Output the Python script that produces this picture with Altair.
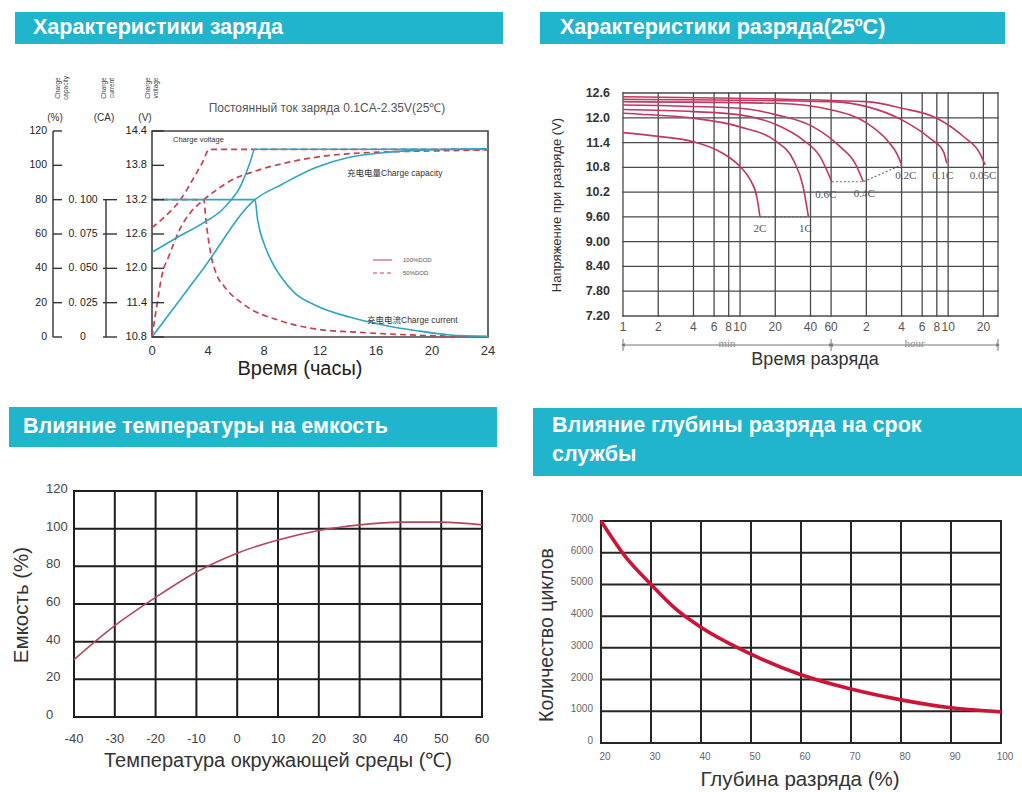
import altair as alt
import pandas as pd

FONT = "Liberation Sans, Arial, Helvetica, sans-serif"
SERIF = "Liberation Serif, Times New Roman, serif"
CJK = "Liberation Sans, Noto Sans CJK SC, sans-serif"
TEAL = "#21b5cd"
INK = "#2b2b2b"

# ============================ DATA ============================
header_texts = ["Характеристики заряда", "Характеристики разряда(25ºC)",
                "Влияние температуры на емкость",
                "Влияние глубины разряда на срок\nслужбы"]

# ---- Panel 1: charge characteristics (hours) ----
charge_hour_ticks = [0, 4, 8, 12, 16, 20, 24]
charge_pct_ticks = [0, 20, 40, 60, 80, 100, 120]
charge_ca_ticks = [0, 0.025, 0.05, 0.075, 0.1]
charge_ca_labels = ["0", "0. 025", "0. 050", "0. 075", "0. 100"]
charge_v_ticks = [10.8, 11.4, 12.0, 12.6, 13.2, 13.8, 14.4]
charge_v_labels = ["10.8", "11.4", "12.0", "12.6", "13.2", "13.8", "14.4"]

volt100_h = [0, 1.8, 3.7, 5.0, 5.6, 6.2, 6.6, 7.0, 7.35, 24]
volt100_v = [12.28, 12.54, 12.8, 13.02, 13.18, 13.38, 13.59, 13.85, 14.08, 14.08]
cur100_h = [0, 7.35, 7.55, 8.0, 8.5, 9.2, 10.2, 11.7, 14.1, 16.5, 18.9, 21.3, 24]
cur100_ca = [0.1, 0.1, 0.085, 0.068, 0.056, 0.044, 0.032, 0.023, 0.0145, 0.0088, 0.0046, 0.0015, 0.0005]
cap100_h = [0, 3.66, 7.35, 9.3, 11.7, 14.1, 16.5, 18.9, 21.3, 24]
cap100_pct = [0, 39.8, 80, 89, 98.7, 104.7, 107.3, 108.7, 109.3, 109.6]

volt50_h = [0, 0.86, 2.06, 3.0, 3.6, 4.1, 24]
volt50_v = [12.71, 12.89, 13.21, 13.59, 13.85, 14.08, 14.08]
cur50_h = [0, 3.7, 3.85, 4.2, 4.6, 5.2, 6.6, 9.2, 12.3, 14.1, 18, 22.5]
cur50_ca = [0.1, 0.1, 0.0854, 0.0604, 0.0458, 0.0363, 0.0233, 0.0117, 0.005, 0.0038, 0.0017, 0.0003]
cap50_h = [0, 0.3, 0.74, 1.2, 1.58, 1.94, 2.7, 3.6, 4.5, 5.6, 7.4, 10.3, 15.1, 22.2, 24]
cap50_pct = [0, 16, 37, 47, 55, 62, 72, 79.3, 85, 91, 96.7, 102.7, 107.3, 108.7, 109]

p1_title = "Постоянный ток заряда 0.1CA-2.35V(25℃)"
p1_notes = ["Charge voltage", "充电电量Charge capacity", "充电电流Charge current"]
p1_legend = ["100%DOD", "50%DOD"]
p1_axis_heads = ["Charge\ncapacity", "Charge\ncurrent", "Charge\nvoltage"]
p1_axis_units = ["(%)", "(CA)", "(V)"]
p1_xtitle = "Время (часы)"

# ---- Panel 2: discharge characteristics (minutes, log) ----
disch_x_ticks = [1, 2, 4, 6, 8, 10, 20, 40, 60, 120, 240, 360, 480, 600, 1200]
disch_x_labels = ["1", "2", "4", "6", "8", "10", "20", "40", "60", "2", "4", "6", "8", "10", "20"]
disch_y_ticks = [7.2, 7.8, 8.4, 9.0, 9.6, 10.2, 10.8, 11.4, 12.0, 12.6]
disch_y_labels = ["7.20", "7.80", "8.40", "9.00", "9.60", "10.2", "10.8", "11.4", "12.0", "12.6"]
disch_rates = ["2C", "1C", "0.6C", "0.4C", "0.2C", "0.1C", "0.05C"]
disch_t = {
    "2C":    [1, 2, 4, 6.3, 8, 10, 12.2, 13.9, 14.8],
    "1C":    [1, 2, 4, 10, 20.5, 28.5, 34.6, 38.4],
    "0.6C":  [1, 4, 10, 20.5, 34.6, 48.3, 60.8],
    "0.4C":  [1, 10, 20.5, 42.2, 71.5, 96, 113],
    "0.2C":  [1, 20.5, 60.8, 121, 180, 218, 241],
    "0.1C":  [1, 60.8, 121, 241, 420, 547, 584],
    "0.05C": [1, 121, 241, 480, 815, 1120, 1242],
}
disch_v = {
    "2C":    [11.64, 11.55, 11.42, 11.22, 11.05, 10.82, 10.5, 10.09, 9.6],
    "1C":    [12.11, 12.06, 11.99, 11.78, 11.42, 10.98, 10.33, 9.6],
    "0.6C":  [12.2, 12.15, 12.07, 11.83, 11.46, 11.06, 10.45],
    "0.4C":  [12.31, 12.23, 12.07, 11.78, 11.3, 10.9, 10.45],
    "0.2C":  [12.39, 12.35, 12.19, 11.87, 11.46, 11.14, 10.86],
    "0.1C":  [12.45, 12.39, 12.27, 11.95, 11.5, 11.18, 10.9],
    "0.05C": [12.51, 12.39, 12.23, 11.99, 11.54, 11.14, 10.86],
}
disch_segments = ["min", "hour"]
disch_segment_bounds = [1, 60, 1600]
p2_ytitle = "Напряжение при разряде (V)"
p2_xtitle = "Время разряда"

# ---- Panel 3: temperature vs capacity ----
temp_c = [-40, -30, -20, -10, 0, 10, 20, 30, 40, 50, 60]
temp_cap = [30.5, 48.5, 63.5, 77, 87, 94, 99, 102, 103.5, 103.5, 102]
temp_x_ticks = [-40, -30, -20, -10, 0, 10, 20, 30, 40, 50, 60]
temp_y_ticks = [0, 20, 40, 60, 80, 100, 120]
p3_ytitle = "Емкость (%)"
p3_xtitle = "Температура окружающей среды (℃)"

# ---- Panel 4: depth of discharge vs cycles ----
dod_pct = [20, 25, 30, 35, 40, 50, 60, 70, 80, 90, 100]
dod_cycles = [7000, 5850, 5000, 4220, 3650, 2800, 2150, 1700, 1360, 1110, 980]
dod_x_ticks = [20, 30, 40, 50, 60, 70, 80, 90, 100]
dod_y_ticks = [0, 1000, 2000, 3000, 4000, 5000, 6000, 7000]
p4_ytitle = "Количество циклов"
p4_xtitle = "Глубина разряда (%)"

# ============================ LAYOUT (pixels) ============================
P1X = dict(domain=[0, 24], range=[152, 488], nice=False, zero=False)
P1Y = dict(domain=[10.8, 14.4], range=[337, 131], nice=False, zero=False)
P2X = dict(type="log", domain=[1, 1600], range=[623, 998], nice=False)
P2Y = dict(domain=[7.2, 12.6], range=[316, 93], nice=False, zero=False)
P3X = dict(domain=[-40, 60], range=[74, 482], nice=False, zero=False)
P3Y = dict(domain=[0, 120], range=[717, 491], nice=False, zero=False)
P4X = dict(domain=[20, 100], range=[601, 1001], nice=False, zero=False)
P4Y = dict(domain=[0, 7000], range=[743, 521], nice=False, zero=False)


def X(f, S):
    return alt.X(f, type="quantitative", scale=alt.Scale(**S), axis=None)


def Y(f, S):
    return alt.Y(f, type="quantitative", scale=alt.Scale(**S), axis=None)


def vgrid(ticks, SX, SY, color, width):
    df = pd.DataFrame({"v": ticks, "a": SY["domain"][0], "b": SY["domain"][1]})
    return alt.Chart(df).mark_rule(color=color, strokeWidth=width, strokeCap="square").encode(
        x=X("v", SX), y=Y("a", SY), y2="b")


def hgrid(ticks, SX, SY, color, width):
    df = pd.DataFrame({"v": ticks, "a": SX["domain"][0], "b": SX["domain"][1]})
    return alt.Chart(df).mark_rule(color=color, strokeWidth=width, strokeCap="square").encode(
        y=Y("v", SY), x=X("a", SX), x2="b")


def xlabels(ticks, labels, SX, SY, dy, dx=0, **style):
    df = pd.DataFrame({"v": ticks, "lab": labels, "base": SY["domain"][0]})
    return alt.Chart(df).mark_text(dy=dy, dx=dx, baseline="middle", align="center", **style).encode(
        x=X("v", SX), y=Y("base", SY), text="lab:N")


def ylabels(ticks, labels, SX, SY, dx, align, dy=0, **style):
    df = pd.DataFrame({"v": ticks, "lab": labels, "base": SX["domain"][0]})
    return alt.Chart(df).mark_text(dx=dx, dy=dy, baseline="middle", align=align, **style).encode(
        y=Y("v", SY), x=X("base", SX), text="lab:N")


def text_at(txt, x, y, size, color=INK, font=FONT, align="left", angle=0, weight="normal",
            baseline="middle", lineHeight=None):
    kw = dict(text=txt, font=font, fontSize=size, color=color, align=align, baseline=baseline,
              fontWeight=weight)
    if angle:
        kw["angle"] = angle
    if lineHeight:
        kw["lineBreak"] = "\n"
        kw["lineHeight"] = lineHeight
    return alt.Chart().mark_text(**kw).encode(x=alt.value(x), y=alt.value(y))


layers = []

# ---------------- headers ----------------
header_boxes = [(15, 503, 12, 44, 33, 28), (540, 1005, 12, 44, 560, 28),
                (9, 497, 407, 447, 23, 427), (533, 1022, 408, 476, 552, 426)]
for txt, (x0, x1, y0, y1, tx, ty) in zip(header_texts, header_boxes):
    layers.append(alt.Chart().mark_rect(color=TEAL).encode(
        x=alt.value(x0), x2=alt.value(x1), y=alt.value(y0), y2=alt.value(y1)))
    layers.append(text_at(txt, tx, ty, 21.5, color="white", weight="bold", lineHeight=29,
                          baseline="middle"))

# ---------------- Panel 1 ----------------
def pct2v(p):
    return 10.8 + p * 0.03


def ca2v(c):
    return 10.8 + c * 24


series = [
    ("volt100", volt100_h, volt100_v, "solid"),
    ("cur100", cur100_h, [ca2v(c) for c in cur100_ca], "solid"),
    ("cap100", cap100_h, [pct2v(p) for p in cap100_pct], "solid"),
    ("volt50", volt50_h, volt50_v, "dashed"),
    ("cur50", cur50_h, [ca2v(c) for c in cur50_ca], "dashed"),
    ("cap50", cap50_h, [pct2v(p) for p in cap50_pct], "dashed"),
]
rows = []
for name, hs, vs, sty in series:
    for i, (h, v) in enumerate(zip(hs, vs)):
        rows.append({"s": name, "h": h, "v": v, "sty": sty, "i": i})
charge_df = pd.DataFrame(rows)

vmin, vmax = min(charge_v_ticks), max(charge_v_ticks)
# frame
layers.append(alt.Chart(pd.DataFrame({"h0": [charge_hour_ticks[0]], "h1": [charge_hour_ticks[-1]],
                                      "v0": [vmin], "v1": [vmax]}))
              .mark_rect(fillOpacity=0, stroke="#444", strokeWidth=1.6)
              .encode(x=X("h0", P1X), x2="h1", y=Y("v0", P1Y), y2="v1"))
layers.append(alt.Chart(charge_df[charge_df.sty == "dashed"]).mark_line(
    color="#c4424f", strokeWidth=1.7, strokeDash=[6, 4], interpolate="monotone").encode(
    x=X("h", P1X), y=Y("v", P1Y), detail="s:N", order="i:Q"))
layers.append(alt.Chart(charge_df[charge_df.sty == "solid"]).mark_line(
    color="#2ea5c3", strokeWidth=1.6, interpolate="monotone").encode(
    x=X("h", P1X), y=Y("v", P1Y), detail="s:N", order="i:Q"))

# x labels + title
layers.append(xlabels(charge_hour_ticks, [str(t) for t in charge_hour_ticks], P1X, P1Y, dy=14,
                      font=FONT, fontSize=13, color="#333"))
layers.append(text_at(p1_xtitle, 300, 369, 20, color="#222", align="center"))
layers.append(text_at(p1_title, 327, 108, 12, color="#555", align="center"))

# V axis labels / inner ticks
vdf = pd.DataFrame({"v": charge_v_ticks, "lab": charge_v_labels})
layers.append(alt.Chart(vdf).mark_text(align="right", baseline="middle", font=FONT, fontSize=11,
                                       color="#222").encode(x=alt.value(147), y=Y("v", P1Y), text="lab:N"))
layers.append(alt.Chart(vdf).mark_rule(color="#333", strokeWidth=1.4).encode(
    x=alt.value(152), x2=alt.value(164), y=Y("v", P1Y)))

# % axis
pdf = pd.DataFrame({"v": [pct2v(p) for p in charge_pct_ticks], "lab": [str(p) for p in charge_pct_ticks]})
layers.append(alt.Chart(pdf).mark_text(align="right", baseline="middle", font=FONT, fontSize=10.5,
                                       color="#222").encode(x=alt.value(47), y=Y("v", P1Y), text="lab:N"))
layers.append(alt.Chart(pdf).mark_rule(color="#333", strokeWidth=1.4).encode(
    x=alt.value(53), x2=alt.value(62), y=Y("v", P1Y)))
layers.append(alt.Chart(pd.DataFrame({"a": [pct2v(min(charge_pct_ticks))], "b": [pct2v(max(charge_pct_ticks))]}))
              .mark_rule(color="#333", strokeWidth=1.4).encode(x=alt.value(53), y=Y("a", P1Y), y2="b"))

# CA axis
cdf = pd.DataFrame({"v": [ca2v(c) for c in charge_ca_ticks], "lab": charge_ca_labels})
layers.append(alt.Chart(cdf).mark_text(align="center", baseline="middle", font=FONT, fontSize=10.5,
                                       color="#222").encode(x=alt.value(83), y=Y("v", P1Y), text="lab:N"))
layers.append(alt.Chart(cdf).mark_rule(color="#333", strokeWidth=1.4).encode(
    x=alt.value(103), x2=alt.value(117), y=Y("v", P1Y)))
layers.append(alt.Chart(pd.DataFrame({"a": [ca2v(min(charge_ca_ticks))], "b": [ca2v(max(charge_ca_ticks))]}))
              .mark_rule(color="#333", strokeWidth=1.4).encode(x=alt.value(106), y=Y("a", P1Y), y2="b"))

# axis heads
for txt, xh in zip(p1_axis_heads, [58, 104, 148]):
    layers.append(text_at(txt, xh, 88, 6.5, color="#444", align="center", angle=270, lineHeight=8))
for txt, xu in zip(p1_axis_units, [55, 104, 145]):
    layers.append(text_at(txt, xu, 118, 10, color="#333", align="center"))

# notes
layers.append(text_at(p1_notes[0], 173, 140, 7.5, color="#333"))
layers.append(text_at(p1_notes[1], 347, 173, 8.5, color="#333", font=CJK))
layers.append(text_at(p1_notes[2], 367, 320, 8.5, color="#333", font=CJK))
# legend
layers.append(alt.Chart().mark_rule(color="#d45a6a", strokeWidth=1.2).encode(
    x=alt.value(373), x2=alt.value(392), y=alt.value(260)))
layers.append(alt.Chart().mark_rule(color="#c4424f", strokeWidth=1.2, strokeDash=[4, 3]).encode(
    x=alt.value(373), x2=alt.value(392), y=alt.value(273)))
layers.append(text_at(p1_legend[0], 403, 260, 6, color="#555"))
layers.append(text_at(p1_legend[1], 403, 273, 6, color="#555"))

# ---------------- Panel 2 ----------------
GRID2 = "#4a4a4a"
layers.append(vgrid(disch_x_ticks + [P2X["domain"][1]], P2X, P2Y, GRID2, 1.3))
layers.append(hgrid(disch_y_ticks, P2X, P2Y, GRID2, 1.3))
drows = []
for r in disch_rates:
    for i, (t, v) in enumerate(zip(disch_t[r], disch_v[r])):
        drows.append({"rate": r, "t": t, "v": v, "i": i})
ddf = pd.DataFrame(drows)
layers.append(alt.Chart(ddf).mark_line(color="#c2375f", strokeWidth=1.6, interpolate="monotone").encode(
    x=X("t", P2X), y=Y("v", P2Y), detail="rate:N", order="i:Q"))

ends = {r: (disch_t[r][-1], disch_v[r][-1]) for r in disch_rates}
chains = [["2C", "1C"], ["0.6C", "0.4C", "0.2C"]]
crow = []
for k, ch in enumerate(chains):
    for r in ch:
        crow.append({"c": k, "t": ends[r][0], "v": ends[r][1]})
layers.append(alt.Chart(pd.DataFrame(crow)).mark_line(color="#666", strokeWidth=1.1, strokeDash=[2, 2]).encode(
    x=X("t", P2X), y=Y("v", P2Y), detail="c:N"))

lab_off = {"2C": (0, 12), "1C": (-3, 12), "0.6C": (-6, 13), "0.4C": (1, 12),
           "0.2C": (4, 11), "0.1C": (-4, 13), "0.05C": (-2, 11)}
for r in disch_rates:
    dx, dy = lab_off[r]
    layers.append(alt.Chart(pd.DataFrame({"t": [ends[r][0]], "v": [ends[r][1]], "lab": [r]}))
                  .mark_text(dx=dx, dy=dy, font=SERIF, fontSize=11, color="#555", baseline="middle")
                  .encode(x=X("t", P2X), y=Y("v", P2Y), text="lab:N"))

layers.append(xlabels(disch_x_ticks, disch_x_labels, P2X, P2Y, dy=11, font=FONT, fontSize=12, color="#555"))
layers.append(ylabels(disch_y_ticks, disch_y_labels, P2X, P2Y, dx=-13, align="right", font=FONT,
                      fontSize=12.5, fontWeight="bold", color="#333"))

# min / hour arrow row
seg = pd.DataFrame({"a": disch_segment_bounds[:-1], "b": disch_segment_bounds[1:], "lab": disch_segments})
seg["mid"] = (seg["a"] * seg["b"]) ** 0.5
layers.append(alt.Chart(seg).mark_rule(color="#777", strokeWidth=1).encode(
    x=X("a", P2X), x2="b", y=alt.value(345)))
bnd = pd.DataFrame({"v": disch_segment_bounds})
layers.append(alt.Chart(bnd).mark_rule(color="#777", strokeWidth=1).encode(
    x=X("v", P2X), y=alt.value(339), y2=alt.value(351)))
layers.append(alt.Chart(pd.DataFrame({"v": disch_segment_bounds[:-1]})).mark_point(
    shape="triangle-left", filled=True, size=18, color="#777", opacity=1).encode(
    x=X("v", P2X), y=alt.value(345)))
layers.append(alt.Chart(pd.DataFrame({"v": disch_segment_bounds[1:]})).mark_point(
    shape="triangle-right", filled=True, size=18, color="#777", opacity=1).encode(
    x=X("v", P2X), y=alt.value(345)))
layers.append(alt.Chart(seg).mark_text(font=SERIF, fontSize=11, color="#888", baseline="middle").encode(
    x=X("mid", P2X), y=alt.value(344), text="lab:N"))
layers.append(text_at(p2_xtitle, 815, 360, 18, color="#333", align="center"))
layers.append(text_at(p2_ytitle, 557, 205, 13, color="#333", align="center", angle=270))

# ---------------- Panel 3 ----------------
GRID3 = "#1e1e1e"
layers.append(vgrid(temp_x_ticks, P3X, P3Y, GRID3, 2))
layers.append(hgrid(temp_y_ticks, P3X, P3Y, GRID3, 2))
layers.append(alt.Chart(pd.DataFrame({"t": temp_c, "c": temp_cap})).mark_line(
    color="#b4475a", strokeWidth=1.6, interpolate="monotone").encode(x=X("t", P3X), y=Y("c", P3Y)))
layers.append(xlabels(temp_x_ticks, [str(t) for t in temp_x_ticks], P3X, P3Y, dy=22,
                      font=FONT, fontSize=13, color="#444"))
layers.append(ylabels(temp_y_ticks, [str(t) for t in temp_y_ticks], P3X, P3Y, dx=-28, dy=-2,
                      align="left", font=FONT, fontSize=13, color="#444"))
layers.append(text_at(p3_xtitle, 278, 761, 20, color="#333", align="center"))
layers.append(text_at(p3_ytitle, 22, 605, 20.5, color="#333", align="center", angle=270))

# ---------------- Panel 4 ----------------
GRID4 = "#262626"
layers.append(vgrid(dod_x_ticks, P4X, P4Y, GRID4, 2))
layers.append(hgrid(dod_y_ticks, P4X, P4Y, GRID4, 2))
layers.append(alt.Chart(pd.DataFrame({"d": dod_pct, "n": dod_cycles})).mark_line(
    color="#cc1436", strokeWidth=3.6, interpolate="monotone").encode(x=X("d", P4X), y=Y("n", P4Y)))
layers.append(xlabels(dod_x_ticks, [str(t) for t in dod_x_ticks], P4X, P4Y, dy=14, dx=4,
                      font=FONT, fontSize=10, color="#666"))
layers.append(ylabels(dod_y_ticks, [str(t) for t in dod_y_ticks], P4X, P4Y, dx=-8, dy=-2,
                      align="right", font=FONT, fontSize=10, color="#666"))
layers.append(text_at(p4_xtitle, 800, 780, 20.5, color="#333", align="center"))
layers.append(text_at(p4_ytitle, 547, 635, 19.5, color="#333", align="center", angle=270))

chart = (alt.layer(*layers)
         .resolve_scale(x="independent", y="independent")
         .properties(width=1022, height=792, autosize=alt.AutoSizeParams(type="none"), padding=0,
                     background="white")
         .configure_view(stroke=None))

chart.save("out.html", embed_options={"renderer": "svg", "actions": False})
